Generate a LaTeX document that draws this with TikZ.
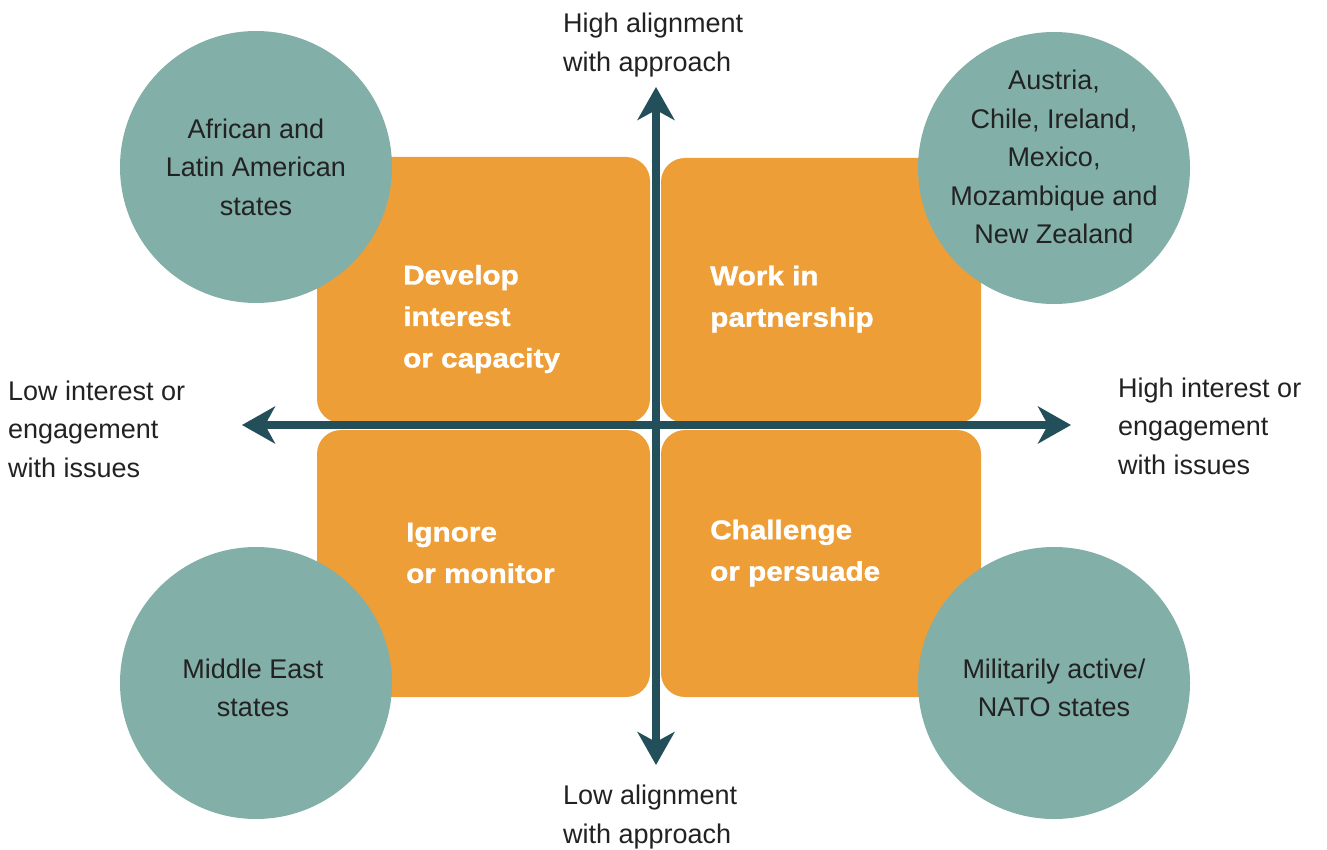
\documentclass[tikz,border=0pt]{standalone}
\usepackage{fontspec}
\setmainfont{Liberation Sans}
\newfontfamily\boxfont{Liberation Sans}[FakeStretch=1.1,FakeBold=1.2]
\usetikzlibrary{arrows.meta}
\definecolor{boxorange}{HTML}{EE9E36}
\definecolor{circteal}{HTML}{82AFA8}
\definecolor{axisdark}{HTML}{234F5B}
\definecolor{txtdark}{HTML}{222222}
\begin{document}
\begin{tikzpicture}[x=1pt,y=-1pt,
  quad/.style={fill=boxorange, rounded corners=24pt},
  grp/.style={circle, fill=circteal, minimum size=272pt, inner sep=0pt},
  grptext/.style={text=txtdark, align=center, font=\fontsize{27}{38.5}\selectfont},
  axislabel/.style={text=txtdark, align=left, inner sep=0pt, font=\fontsize{27}{38.5}\selectfont},
  quadlabel/.style={text=white, align=left, inner sep=0pt, font=\boxfont\bfseries\fontsize{27}{41.5}\selectfont},
  axis/.style={draw=axisdark, line width=8pt, {Stealth[length=33pt,width=37pt,inset=10pt]}-{Stealth[length=33pt,width=37pt,inset=10pt]}}
]
\useasboundingbox (0,0) rectangle (1327,850);
\fill[white] (0,0) rectangle (1327,850);

% quadrant boxes
\fill[quad] (317,157) rectangle (650,423);
\fill[quad] (661,158) rectangle (981,423);
\fill[quad] (317,430) rectangle (650,697);
\fill[quad] (661,430) rectangle (981,697);

% axes
\coordinate (ytop) at (656,87);
\coordinate (ybot) at (656,765);
\coordinate (xleft) at (242,425);
\coordinate (xright) at (1071,425);
\draw[axis] (ybot) -- (ytop);
\draw[axis] (xleft) -- (xright);

% circles
\node[grp] (ctl) at (256,167) {};
\node[grp] (ctr) at (1054,168) {};
\node[grp] (cbl) at (256,683) {};
\node[grp] (cbr) at (1054,683) {};

\node[grptext] (tctl) at (256,167) {African and\\Latin American\\states};
\node[grptext] (tctr) at (1054,157) {Austria,\\Chile, Ireland,\\Mexico,\\Mozambique and\\New Zealand};
\node[grptext] (tcbl) at (253,688) {Middle East\\states};
\node[grptext] (tcbr) at (1054,688) {Militarily active/\\NATO states};

% quadrant labels
\node[quadlabel, anchor=west] (q1) at (403,319) {Develop\\interest\\or capacity};
\node[quadlabel, anchor=west] (q2) at (710,299) {Work in\\partnership};
\node[quadlabel, anchor=west] (q3) at (406,553) {Ignore\\or monitor};
\node[quadlabel, anchor=west] (q4) at (710,553) {Challenge\\or persuade};

% axis labels
\node[axislabel, anchor=west] (ltop) at (563,45) {High alignment\\with approach};
\node[axislabel, anchor=west] (lbot) at (563,817) {Low alignment\\with approach};
\node[axislabel, anchor=west] (lleft) at (8,429) {Low interest or\\engagement\\with issues};
\node[axislabel, anchor=west] (lright) at (1118,426) {High interest or\\engagement\\with issues};
\end{tikzpicture}
\end{document}
